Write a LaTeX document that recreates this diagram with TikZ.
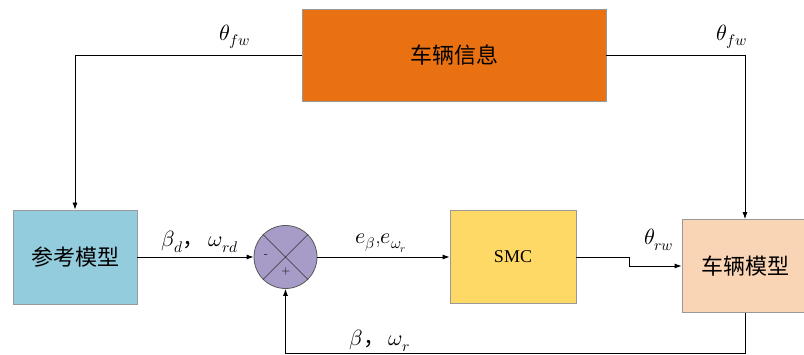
\documentclass[tikz,border=0pt]{standalone}
\usepackage{fontspec}
\usepackage{unicode-math}
\setmathfont{Latin Modern Math}
\newfontfamily\cjk{Noto Sans CJK SC}
\newfontfamily\serf{Liberation Serif}
\usetikzlibrary{arrows.meta,calc}
\definecolor{topc}{RGB}{233,113,18}
\definecolor{refc}{RGB}{147,205,221}
\definecolor{sumc}{RGB}{167,155,200}
\definecolor{smcc}{RGB}{255,217,102}
\definecolor{vehc}{RGB}{250,213,181}
\tikzset{
  blk/.style={draw=gray!80, line width=0.8pt, inner sep=0pt},
  cn/.style={font=\cjk\fontsize{22}{26}\selectfont},
  conn/.style={draw=black, line width=0.8pt, -{Latex[length=7pt,width=5pt]}},
  lab/.style={font=\fontsize{22}{24}\selectfont, inner sep=0pt}
}
\begin{document}
\begin{tikzpicture}[x=1pt,y=-1pt]
\clip (0,0) rectangle (804,355);
\fill[white] (0,0) rectangle (804,355);
\node[blk, fill=topc, minimum width=304pt, minimum height=92pt, cn] (top) at (454,55) {车辆信息};
\node[blk, fill=refc, minimum width=124pt, minimum height=94pt, cn] (ref) at (75,257) {参考模型};
\node[draw=gray!70!black, line width=0.8pt, fill=sumc, circle, minimum size=63pt, inner sep=0pt] (sum) at (285.5,257) {};
\draw[gray!40!black, line width=0.6pt] (sum.north west) -- (sum.south east) (sum.north east) -- (sum.south west);
\node[font=\fontsize{12}{12}\selectfont] (minus) at (266,256) {-};
\node[font=\fontsize{12}{12}\selectfont] (plus) at (286,272) {+};
\node[blk, fill=smcc, minimum width=126pt, minimum height=93pt, font=\serf\fontsize{18}{20}\selectfont] (smc) at (513,257) {SMC};
\node[blk, fill=vehc, minimum width=126pt, minimum height=93pt, cn] (veh) at (745,266) {车辆模型};
% connectors
\draw[conn] (top.west) -| (ref.north);
\draw[conn] (top.east) -| (veh.north);
\draw[conn] (ref.east) -- (sum.west);
\draw[conn] (sum.east) -- (smc.west);
\coordinate (k1) at (629,257);
\coordinate (k2) at (629,266);
\draw[conn] (smc.east) -- (k1) -- (k2) -- (veh.west);
\coordinate (f1) at (745,353);
\coordinate (f2) at (285.5,353);
\draw[conn] (veh.south) -- (f1) -- (f2) -- (sum.south);
% labels
\node[lab] (l1) at (235,37) {$\theta_{fw}$};
\node[lab] (l2) at (732,37) {$\theta_{fw}$};
\node[lab] (l3) at (200,242) {$\beta_d$\cjk{，}\,$\omega_{rd}$};
\node[lab] (l4) at (381,243) {$e_\beta$,$e_{\omega_r}$};
\node[lab] (l5) at (659,240) {$\theta_{rw}$};
\node[lab] (l6) at (380,341) {$\beta$\cjk{，}\,$\omega_r$};
\end{tikzpicture}
\end{document}
